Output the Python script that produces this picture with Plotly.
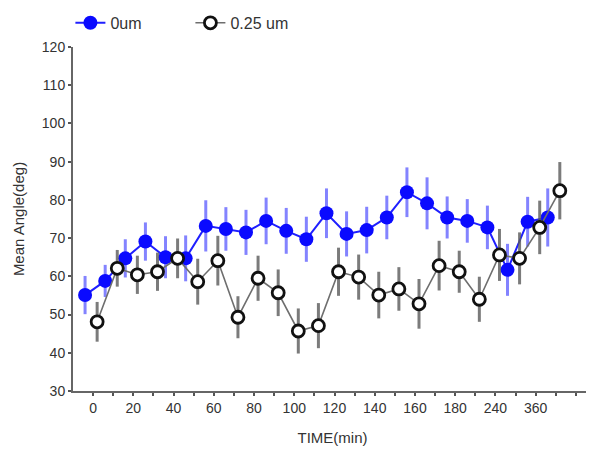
import numpy as np
import plotly.graph_objects as go

# tick labels (one tick per time point)
tick_labels = ["0", "", "20", "", "40", "", "60", "", "80", "", "100", "", "120", "",
               "140", "", "160", "", "180", "", "240", "", "360", "", ""]

# 0um series
blue_mean = [55.1, 58.8, 64.7, 69.1, 65.0, 64.7, 73.2, 72.4, 71.5, 74.5, 71.9, 69.7,
             76.5, 71.1, 72.1, 75.4, 82.0, 79.1, 75.4, 74.5, 72.8, 61.7, 74.3, 75.4]
blue_err = [5.0, 4.2, 5.0, 5.0, 5.5, 6.0, 6.7, 5.7, 5.9, 6.1, 6.0, 5.9,
            6.5, 5.9, 6.1, 5.7, 6.5, 6.8, 5.5, 5.7, 5.7, 6.8, 6.5, 7.6]

# 0.25 um series
black_mean = [48.1, 62.1, 60.4, 61.2, 64.7, 58.6, 64.1, 49.3, 59.5, 55.7, 45.7, 47.1,
              61.2, 59.8, 55.1, 56.7, 52.8, 62.8, 61.2, 54.0, 65.6, 64.7, 72.8, 82.4]
black_err = [5.2, 4.8, 5.0, 5.0, 5.2, 6.0, 6.5, 5.5, 5.9, 6.1, 5.9, 5.9,
             6.3, 5.9, 6.1, 5.7, 6.5, 6.5, 5.5, 5.9, 6.8, 6.8, 7.0, 7.5]

idx = np.arange(len(blue_mean))
blue_dodge = -0.4
black_dodge = 0.2

FONT = "Liberation Sans, Arial, sans-serif"

fig = go.Figure()
fig.add_trace(go.Scatter(
    x=idx + blue_dodge, y=blue_mean, name="0um", mode="lines+markers",
    line=dict(color="#1f1fff", width=2),
    marker=dict(color="#0a0aff", size=14, line=dict(width=0)),
    error_y=dict(type="data", array=blue_err, color="rgba(90,90,255,0.75)",
                 thickness=3, width=0),
))
fig.add_trace(go.Scatter(
    x=idx + black_dodge, y=black_mean, name="0.25 um", mode="lines+markers",
    line=dict(color="#6e6e6e", width=1.6),
    marker=dict(color="white", size=12, symbol="circle",
                line=dict(color="#111111", width=2.8)),
    error_y=dict(type="data", array=black_err, color="rgba(90,90,90,0.8)",
                 thickness=3, width=0),
))

fig.update_layout(
    width=586, height=441,
    margin=dict(l=65, r=2, t=39, b=58, autoexpand=False),
    paper_bgcolor="white", plot_bgcolor="white",
    font=dict(family=FONT, size=14, color="#333333"),
    showlegend=True,
    legend=dict(orientation="h", x=-0.005, y=1.07, xanchor="left", yanchor="middle",
                font=dict(size=16, color="#333333"), itemwidth=30, entrywidth=75,
                bgcolor="rgba(0,0,0,0)", tracegroupgap=0),
)
fig.update_xaxes(
    range=[-1.0, 24.8], tickmode="array", tickvals=list(range(len(tick_labels))),
    ticktext=tick_labels, ticks="outside", ticklen=3, tickwidth=1.5,
    tickcolor="#555555", showline=True, linecolor="#666666", linewidth=2,
    showgrid=False, zeroline=False, tickfont=dict(size=14, color="#333333"),
    title=dict(text="TIME(min)", font=dict(size=15, color="#333333"), standoff=18),
)
fig.update_yaxes(
    range=[30, 120], tickmode="array", tickvals=list(range(30, 121, 10)),
    ticks="outside", ticklen=3, tickwidth=1.5, tickcolor="#555555",
    showline=True, linecolor="#666666", linewidth=2, showgrid=False,
    zeroline=False, tickfont=dict(size=14, color="#333333"),
    title=dict(text="Mean Angle(deg)", font=dict(size=15, color="#333333"), standoff=14),
)

fig.write_html("out.html")
